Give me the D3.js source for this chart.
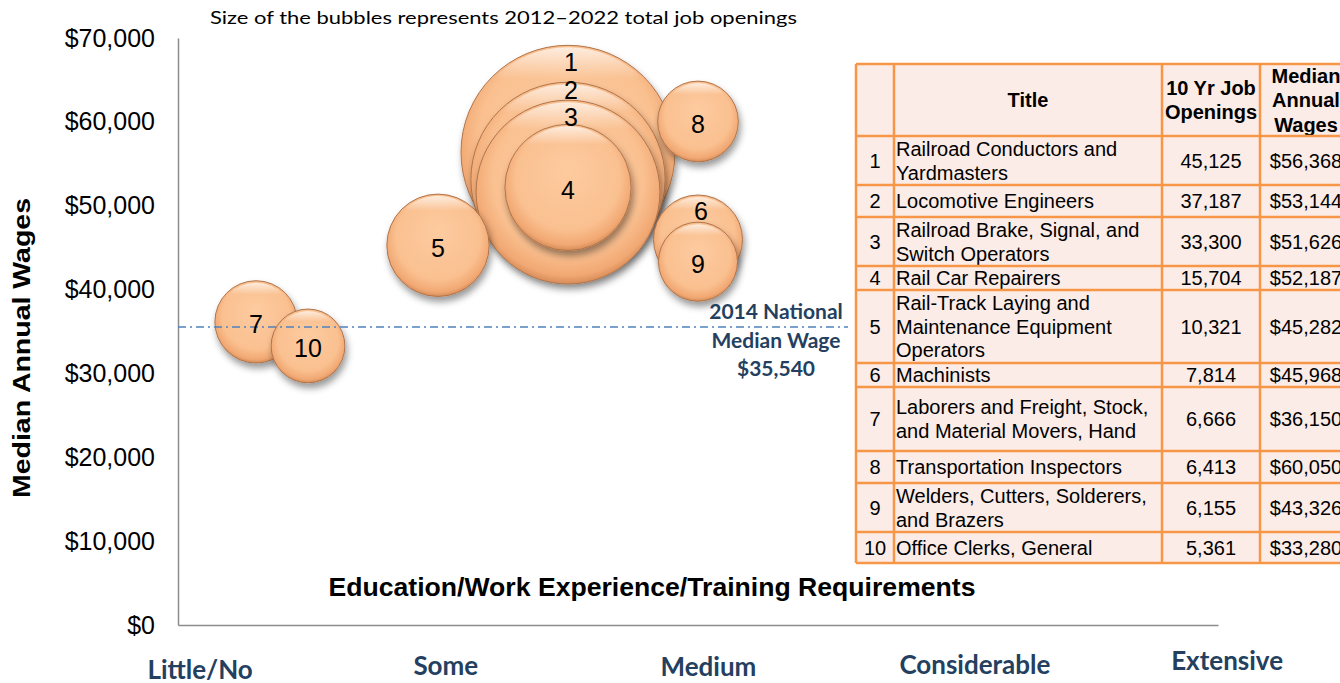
<!DOCTYPE html>
<meta charset="utf-8">
<style>
  body { margin: 0; background: #fff; }
  svg { display: block; }
</style>
<script src="https://cdn.jsdelivr.net/npm/d3@7"></script>
<div id="chart"></div>
<script>

// occupations, 2012-2022 openings and 2014 median wages
var ids = [1, 2, 3, 4, 5, 6, 7, 8, 9, 10];
var titles = [
  ["Railroad Conductors and", "Yardmasters"],
  ["Locomotive Engineers"],
  ["Railroad Brake, Signal, and", "Switch Operators"],
  ["Rail Car Repairers"],
  ["Rail-Track Laying and", "Maintenance Equipment", "Operators"],
  ["Machinists"],
  ["Laborers and Freight, Stock,", "and Material Movers, Hand"],
  ["Transportation Inspectors"],
  ["Welders, Cutters, Solderers,", "and Brazers"],
  ["Office Clerks, General"]
];
var openings = [45125, 37187, 33300, 15704, 10321, 7814, 6666, 6413, 6155, 5361];
var wages = [56368, 53144, 51626, 52187, 45282, 45968, 36150, 60050, 43326, 33280];
var eduLevel = [3, 3, 3, 3, 2, 4, 0.6, 4, 4, 1];   // position on the requirements axis
var nationalMedian = 35540;
var categories = ["Little/No", "Some", "Medium", "Considerable", "Extensive"];
var categoryAt = [0.17, 2.06, 4.08, 6.13, 8.07];
var yTicks = [0, 10000, 20000, 30000, 40000, 50000, 60000, 70000];
var tableHeader = [[""], ["Title"], ["10 Yr Job", "Openings"], ["Median", "Annual", "Wages"]];

var W = 1340, H = 683;
var navy = "#243F60";

var svg = d3.select("#chart").append("svg")
  .attr("width", W).attr("height", H);

var defs = svg.append("defs");
var rg = defs.append("radialGradient").attr("id", "bub")
  .attr("cx", "50%").attr("cy", "45%").attr("r", "55%")
  .attr("fx", "50%").attr("fy", "35%");
rg.append("stop").attr("offset", "0%").attr("stop-color", "#FDCBA0");
rg.append("stop").attr("offset", "75%").attr("stop-color", "#FAC090");
rg.append("stop").attr("offset", "93%").attr("stop-color", "#F1A873");
rg.append("stop").attr("offset", "100%").attr("stop-color", "#D68C58");
var lg = defs.append("linearGradient").attr("id", "shine")
  .attr("x1", 0).attr("y1", 0).attr("x2", 0).attr("y2", 1);
lg.append("stop").attr("offset", "0%").attr("stop-color", "#fff").attr("stop-opacity", 0.7);
lg.append("stop").attr("offset", "15%").attr("stop-color", "#fff").attr("stop-opacity", 0);
var sh = defs.append("filter").attr("id", "shadow")
  .attr("x", "-20%").attr("y", "-20%").attr("width", "150%").attr("height", "150%");
sh.append("feDropShadow").attr("dx", 2).attr("dy", 5).attr("stdDeviation", 3.5)
  .attr("flood-color", "#000").attr("flood-opacity", 0.4);

// scales
var x = d3.scaleLinear().domain([0, 8]).range([178, 1218]);
var y = d3.scaleLinear().domain([0, 70000]).range([625, 38]);
var r = d3.scaleSqrt().domain([0, 45125]).range([0, 107]);

// y axis
var yAxis = svg.append("g")
  .attr("transform", "translate(" + x(0) + ",0)")
  .call(d3.axisLeft(y).tickValues(yTicks).tickFormat(d3.format("$,")).tickSize(0).tickPadding(23));
yAxis.select(".domain").attr("stroke", "#8c8c8c").attr("stroke-width", 1.5);
yAxis.selectAll("text")
  .attr("font-family", "Arial, 'Liberation Sans', sans-serif")
  .attr("font-size", 25).attr("fill", "#000");

// x axis line only
var xAxis = svg.append("g")
  .attr("transform", "translate(0," + y(0) + ")")
  .call(d3.axisBottom(x).tickValues([]).tickSizeOuter(0));
xAxis.select(".domain").attr("stroke", "#8c8c8c").attr("stroke-width", 1.5);

svg.append("text")
  .attr("transform", "translate(30,348) rotate(-90)")
  .attr("text-anchor", "middle")
  .attr("font-family", "Arial, 'Liberation Sans', sans-serif")
  .attr("font-weight", "bold").attr("font-size", 24)
  .attr("textLength", 300).attr("lengthAdjust", "spacingAndGlyphs")
  .text("Median Annual Wages");

svg.append("text")
  .attr("x", 652).attr("y", 596)
  .attr("text-anchor", "middle")
  .attr("font-family", "Arial, 'Liberation Sans', sans-serif")
  .attr("font-weight", "bold").attr("font-size", 25)
  .attr("textLength", 647).attr("lengthAdjust", "spacingAndGlyphs")
  .text("Education/Work Experience/Training Requirements");

svg.append("text")
  .attr("x", 210).attr("y", 24)
  .attr("font-family", "Lato, sans-serif").attr("font-size", 18)
  .attr("textLength", 587).attr("lengthAdjust", "spacingAndGlyphs")
  .text("Size of the bubbles represents 2012\u20132022 total job openings");

// category labels under the axis
var catY = [679, 675, 676, 674, 670];
svg.append("g").selectAll("text")
  .data(categories)
  .enter().append("text")
    .attr("x", function(d, i) { return x(categoryAt[i]); })
    .attr("y", function(d, i) { return catY[i]; })
    .attr("text-anchor", "middle")
    .attr("font-family", "Lato, sans-serif").attr("font-weight", "bold")
    .attr("font-size", 26).attr("fill", navy)
    .text(function(d) { return d; });

// bubbles, biggest at the back
var data = ids.map(function(id, i) {
  return {id: id, open: openings[i], wage: wages[i], edu: eduLevel[i]};
});
var order = data.slice().sort(function(a, b) { return b.open - a.open; });

var bub = svg.append("g").selectAll("g")
  .data(order)
  .enter().append("g")
    .attr("transform", function(d) { return "translate(" + x(d.edu) + "," + y(d.wage) + ")"; });
bub.append("circle")
  .attr("r", function(d) { return r(d.open); })
  .attr("fill", "url(#bub)")
  .attr("stroke", "#B0744A").attr("stroke-width", 1)
  .attr("filter", "url(#shadow)");
bub.append("circle")
  .attr("r", function(d) { return r(d.open) - 2; })
  .attr("fill", "url(#shine)");

// national median line
svg.append("line")
  .attr("x1", x(0)).attr("x2", 848)
  .attr("y1", y(nationalMedian)).attr("y2", y(nationalMedian))
  .attr("stroke", "#4F81BD").attr("stroke-width", 1.5)
  .attr("stroke-dasharray", "8,4,2,4");

var medLines = ["2014 National", "Median Wage", "$" + d3.format(",")(nationalMedian)];
svg.append("g").selectAll("text")
  .data(medLines)
  .enter().append("text")
    .attr("x", 776)
    .attr("y", function(d, i) { return 319 + i * 28.5; })
    .attr("text-anchor", "middle")
    .attr("font-family", "Lato, sans-serif").attr("font-weight", "bold")
    .attr("font-size", 21).attr("fill", navy)
    .text(function(d) { return d; });

// bubble numbers; the stacked ones sit near their top edge
var topOffset = {1: 17, 2: 8, 3: 17, 6: 16};
svg.append("g").selectAll("text")
  .data(data)
  .enter().append("text")
    .attr("x", function(d) { return x(d.edu) + (topOffset[d.id] ? 3 : 0); })
    .attr("y", function(d) {
      var cy = y(d.wage);
      if (topOffset[d.id]) cy = cy - r(d.open) + topOffset[d.id];
      return cy;
    })
    .attr("dy", function(d) { return topOffset[d.id] ? "0.35em" : "0.45em"; })
    .attr("text-anchor", "middle")
    .attr("font-family", "Arial, 'Liberation Sans', sans-serif")
    .attr("font-size", 25).attr("fill", "#000")
    .text(function(d) { return d.id; });

// table
var colX = [856, 894, 1162, 1260, 1352];
var rowH = [72, 49, 32, 49, 24, 73, 24, 64, 32, 49, 31];
var rowY = [64];
rowH.forEach(function(h) { rowY.push(rowY[rowY.length - 1] + h); });

var rows = [tableHeader].concat(data.map(function(d, i) {
  return [[String(d.id)], titles[i], [d3.format(",")(d.open)], ["$" + d3.format(",")(d.wage)]];
}));

var table = svg.append("g");
table.append("rect")
  .attr("x", colX[0]).attr("y", rowY[0])
  .attr("width", colX[4] - colX[0]).attr("height", rowY[rowY.length - 1] - rowY[0])
  .attr("fill", "#FBECE7");

rows.forEach(function(row, ri) {
  var top = rowY[ri], h = rowH[ri];
  var lh = ri === 0 ? 24.5 : 23.7;
  row.forEach(function(lines, ci) {
    var anchor = ci === 1 && ri > 0 ? "start" : "middle";
    var tx = anchor === "start" ? colX[ci] + 2 : (colX[ci] + colX[ci + 1]) / 2;
    var mid = top + h / 2;
    table.append("g").selectAll("text")
      .data(lines)
      .enter().append("text")
        .attr("x", tx)
        .attr("y", function(d, li) { return mid + (li - (lines.length - 1) / 2) * lh; })
        .attr("dy", "0.36em")
        .attr("text-anchor", anchor)
        .attr("font-family", "Arial, 'Liberation Sans', sans-serif")
        .attr("font-size", 20)
        .attr("font-weight", ri === 0 ? "bold" : "normal")
        .attr("fill", "#000")
        .text(function(d) { return d; });
  });
});

table.selectAll("line.h")
  .data(rowY)
  .enter().append("line")
    .attr("x1", colX[0]).attr("x2", colX[4])
    .attr("y1", function(d) { return d; }).attr("y2", function(d) { return d; })
    .attr("stroke", "#F79646").attr("stroke-width", 2.5);
table.selectAll("line.v")
  .data(colX)
  .enter().append("line")
    .attr("x1", function(d) { return d; }).attr("x2", function(d) { return d; })
    .attr("y1", rowY[0]).attr("y2", rowY[rowY.length - 1])
    .attr("stroke", "#F79646").attr("stroke-width", 2.5);

</script>
